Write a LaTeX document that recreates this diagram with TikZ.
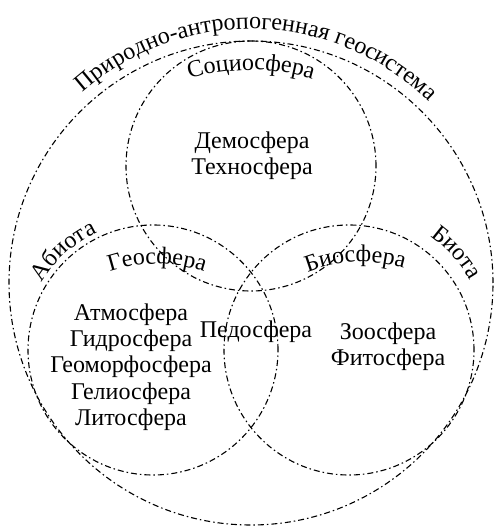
\documentclass[tikz,border=0pt]{standalone}
\usepackage{fontspec}
\setmainfont{Liberation Serif}
\usetikzlibrary{decorations.text}
\newcommand{\sferfont}{\fontsize{24}{26.3}\selectfont}
\tikzset{
  sphere/.style={draw=black, line width=1.1pt, dash pattern=on 6pt off 3pt on 1.5pt off 3pt},
  lbl/.style={font=\sferfont, align=center, inner sep=0pt},
  arctext/.style={decorate, decoration={text along path, text align=center, text={|\sferfont|#1}}}
}
\begin{document}
\begin{tikzpicture}[x=1pt, y=1pt]
  \useasboundingbox (0,0) rectangle (499,531);
  % centres of the four circles
  \coordinate (whole) at (251,248);
  \coordinate (socio) at (251,365);
  \coordinate (geo) at (153,181);
  \coordinate (bio) at (349,181);
  \draw[sphere] (whole) circle[radius=242];
  \draw[sphere] (socio) circle[radius=125];
  \draw[sphere] (geo) circle[radius=125];
  \draw[sphere] (bio) circle[radius=125];

  % labels written along arcs
  \coordinate (wholestart) at ([shift={(150:254)}]whole);
  \coordinate (sociostart) at ([shift={(120:213)}]whole);
  \coordinate (abiostart) at ([shift={(160:130)}]geo);
  \coordinate (biotastart) at ([shift={(70:140)}]bio);
  \coordinate (geoarc) at (157,117);
  \coordinate (bioarc) at (362,119);
  \coordinate (geostart) at ([shift={(120:150)}]geoarc);
  \coordinate (biostart) at ([shift={(125:150)}]bioarc);
  \path[arctext={Природно-антропогенная геосистема}] (wholestart) arc[start angle=150, end angle=27, radius=254];
  \path[arctext={Социосфера}] (sociostart) arc[start angle=120, end angle=60, radius=213];
  \path[arctext={Абиота}] (abiostart) arc[start angle=160, end angle=104, radius=130];
  \path[arctext={Биота}] (biotastart) arc[start angle=70, end angle=14, radius=140];
  \path[arctext={Геосфера}] (geostart) arc[start angle=120, end angle=60, radius=150];
  \path[arctext={Биосфера}] (biostart) arc[start angle=125, end angle=60, radius=150];

  % labels inside the circles
  \node[lbl] (demo) at (252,375) {Демосфера\\Техносфера};
  \node[lbl] (abio) at (131,164) {Атмосфера\\Гидросфера\\Геоморфосфера\\Гелиосфера\\Литосфера};
  \node[lbl] (pedo) at (256,199) {Педосфера};
  \node[lbl] (zoo) at (388,184) {Зоосфера\\Фитосфера};
\end{tikzpicture}
\end{document}
